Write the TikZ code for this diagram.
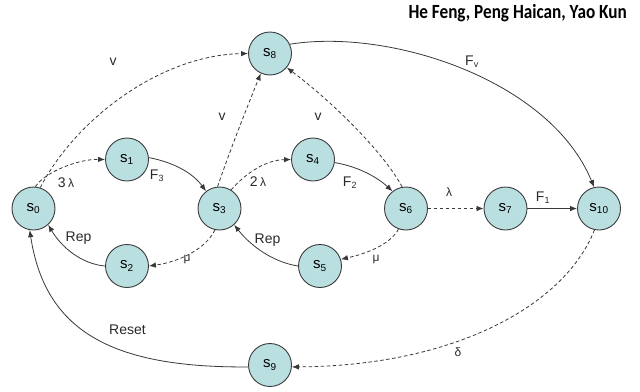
\documentclass[tikz,border=0pt]{standalone}
\usepackage{fontspec}
\setmainfont{Liberation Sans}
\newfontfamily\titlefont{Carlito}
\usetikzlibrary{arrows.meta}
\definecolor{statefill}{HTML}{B9DFE1}
\definecolor{stateline}{HTML}{3C3C3C}
\definecolor{edgecol}{HTML}{383838}
\definecolor{labelcol}{HTML}{2A2A2A}
\tikzset{
  state/.style={circle, draw=stateline, line width=0.9pt, fill=statefill,
    minimum size=43pt, inner sep=0pt, text=black,
    font=\fontsize{15}{15}\selectfont},
  sure/.style={draw=edgecol, line width=0.8pt,
    -{Latex[length=7pt,width=5.5pt]}},
  maybe/.style={sure, dash pattern=on 3.5pt off 2.5pt},
  lbl/.style={text=labelcol, inner sep=0pt, font=\fontsize{14}{14}\selectfont},
  glbl/.style={text=labelcol, inner sep=0pt, font=\fontsize{12}{12}\selectfont}
}
\newcommand{\st}[1]{s\textsubscript{\fontsize{10}{10}\selectfont #1}}
\begin{document}
\begin{tikzpicture}[x=1pt,y=-1pt]
\useasboundingbox (0,0) rectangle (640,391);

% author line
\node[anchor=base east, inner sep=0pt, font=\titlefont\bfseries\fontsize{17.2}{17}\selectfont]
  (title) at (627,18.5) {\scalebox{1}[1.17]{He Feng, Peng Haican, Yao Kun}};

% states
\node[state] (s0)  at (33.5,208.5) {\st{0}};
\node[state] (s1)  at (127,159.5)  {\st{1}};
\node[state] (s2)  at (127,266)    {\st{2}};
\node[state] (s3)  at (219.5,208.5){\st{3}};
\node[state] (s4)  at (313,159.5)  {\st{4}};
\node[state] (s5)  at (320,266)    {\st{5}};
\node[state] (s6)  at (406,208.5)  {\st{6}};
\node[state] (s7)  at (505.5,208.5){\st{7}};
\node[state] (s10) at (599,208.5)  {\st{10}};
\node[state] (s8)  at (270,53.5)   {\st{8}};
\node[state] (s9)  at (270,365)    {\st{9}};

% transitions
\draw[maybe] (s0.85) .. controls (45,172) and (78,159) .. (s1.west);
\draw[maybe] (s0.72) .. controls (75,120) and (160,55) .. (s8.west);
\draw[sure]  (s1.5) .. controls (172,162) and (192,172) .. (s3.128);
\draw[maybe] (s3.258) .. controls (205,250) and (178,262) .. (s2.east);
\draw[sure]  (s2.west) .. controls (82,264) and (62,248) .. (s0.-48);
\draw[maybe] (s3.95) .. controls (230,150) and (248,105) .. (s8.245);
\draw[maybe] (s3.58) .. controls (245,174) and (265,160) .. (s4.west);
\draw[sure]  (s4.-8) .. controls (360,167) and (378,178) .. (s6.128);
\draw[maybe] (s6.100) .. controls (382,150) and (330,100) .. (s8.-40);
\draw[maybe] (s6.250) .. controls (390,245) and (365,254) .. (s5.18);
\draw[sure]  (s5.west) .. controls (272,262) and (250,245) .. (s3.-48);
\draw[maybe] (s6) -- (s7);
\draw[sure]  (s7) -- (s10);
\draw[sure]  (s8.25) .. controls (390,28) and (550,80) .. (s10.103);
\draw[maybe] (s10.258) .. controls (565,305) and (455,366) .. (s9.-5);
\draw[sure]  (s9.185) .. controls (110,368) and (45,330) .. (s0.-100);

% labels
\node[lbl] (lv1) at (113,62) {v};
\node[lbl] (lv2) at (222,117) {v};
\node[lbl] (lv3) at (318,117) {v};
\node[lbl] (l3l) at (66,183) {3\,{\fontsize{12}{12}\selectfont λ}};
\node[lbl] (lF3) at (157,176) {F\textsubscript{\fontsize{9}{9}\selectfont 3}};
\node[lbl] (l2l) at (258,182) {2\,{\fontsize{12}{12}\selectfont λ}};
\node[lbl] (lF2) at (350,183) {F\textsubscript{\fontsize{9}{9}\selectfont 2}};
\node[glbl] (ll) at (449,192) {λ};
\node[lbl] (lF1) at (543,198) {F\textsubscript{\fontsize{9}{9}\selectfont 1}};
\node[lbl] (lFv) at (472,62) {F\textsubscript{\fontsize{9}{9}\selectfont v}};
\node[lbl] (lR1) at (78.5,238) {Rep};
\node[lbl] (lR2) at (267.5,240) {Rep};
\node[glbl] (lm1) at (187,259) {μ};
\node[glbl] (lm2) at (376,259) {μ};
\node[lbl] (lRs) at (127.5,330) {Reset};
\node[glbl] (ld) at (458,352) {δ};
\end{tikzpicture}
\end{document}
